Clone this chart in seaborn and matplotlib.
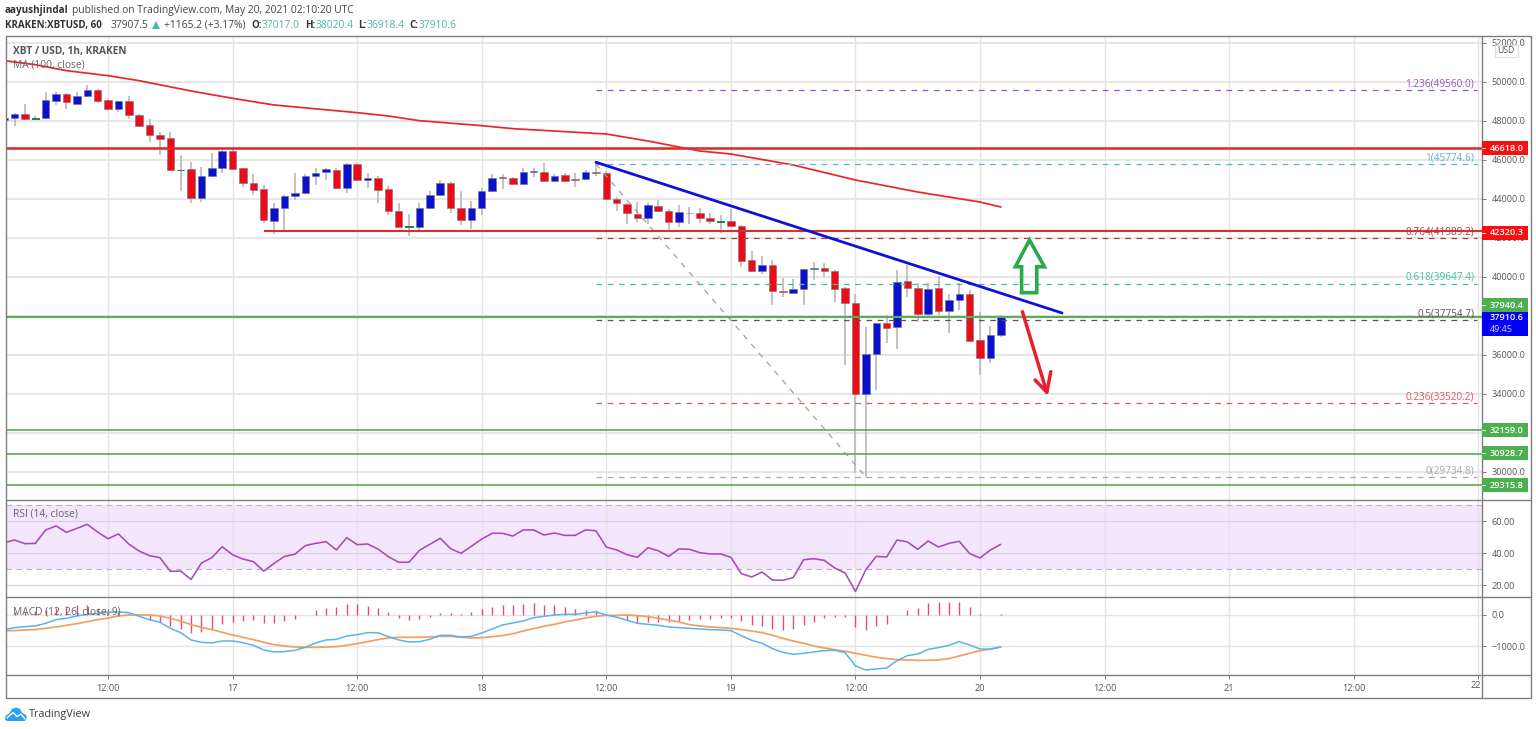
import matplotlib
matplotlib.use("Agg")
import matplotlib.pyplot as plt
from matplotlib.patches import Polygon, Rectangle
import numpy as np
import pandas as pd
import seaborn as sns

W, H = 1536, 729

# hours counted from 12:00 on the 16th, one bar per hour
hours = list(range(-10, 87))

opens = [48037, 48122, 48361, 48088, 48122, 49028, 49353, 48857, 49250, 49558,
         49045, 48601, 48994, 48310, 47763, 47285, 47097, 45456, 45507, 44038,
         45166, 45558, 46464, 45558, 44824, 44482, 42875, 43525, 44123, 44311,
         45166, 45371, 45473, 44567, 45764, 44977, 45080, 44482, 43354, 42534,
         42568, 43525, 44209, 44824, 43525, 42910, 43525, 44379, 45097, 45046,
         44771, 45369, 45386, 44925, 45215, 45010, 44993, 45386, 45335, 44002,
         43728, 43233, 43011, 43626, 43387, 42823, 43284, 43267, 43011, 42823,
         42874, 42617, 40857, 40276, 40584, 39268, 39148, 39370, 40379, 40464,
         40293, 39405, 38653, 34004, 36021, 37610, 37405, 39763, 39439, 38072,
         39439, 38260, 38806, 39131, 36756, 35816, 37017]
highs = [48242, 48413, 48857, 48242, 49489, 49489, 49404, 49489, 49831, 49643,
         49096, 49028, 49267, 48344, 48071, 47404, 47421, 46225, 45883, 45627,
         46328, 46499, 46533, 45593, 45268, 44704, 43764, 44174, 45302, 45251,
         45558, 45558, 45558, 45815, 45815, 45302, 45166, 44653, 43798, 43200,
         43764, 44396, 44961, 44858, 44379, 43901, 44533, 45251, 45251, 45131,
         45557, 45557, 45813, 45266, 45301, 45301, 45472, 45813, 45437, 44104,
         43797, 43848, 43763, 43934, 43455, 43677, 43592, 43506, 43284, 43164,
         43455, 42669, 41336, 41062, 40857, 39917, 39866, 40413, 40738, 40686,
         40345, 39490, 39114, 37439, 37644, 38037, 40345, 40601, 39695, 39695,
         40037, 39114, 39695, 39319, 38208, 37473, 38020]
lows = [48003, 47729, 48037, 48037, 48105, 48823, 48601, 48840, 49233, 48891,
        48549, 48430, 48105, 47695, 46926, 46242, 45405, 44414, 43798, 43850,
        45131, 45337, 45507, 44619, 44191, 42773, 42192, 42397, 43935, 44243,
        44704, 44960, 44482, 44311, 44960, 44567, 43798, 43166, 42534, 42089,
        42312, 43474, 44157, 43286, 42653, 42465, 43166, 44328, 44516, 44687,
        44737, 45130, 44873, 44873, 44873, 44617, 44959, 45164, 43933, 43387,
        42703, 42823, 42703, 43335, 42395, 42566, 42703, 42771, 42703, 42259,
        42566, 40515, 40242, 40122, 38550, 38977, 39114, 38550, 39832, 39969,
        38721, 35474, 29920, 29749, 34192, 36619, 36277, 38943, 37696, 37986,
        38037, 37097, 38294, 36687, 34961, 35559, 36918]
closes = [48156, 48361, 48071, 48122, 49045, 49353, 48942, 49250, 49558, 49028,
          48601, 48994, 48310, 47746, 47268, 47080, 45456, 45490, 44038, 45166,
          45558, 46464, 45542, 44824, 44465, 42910, 43525, 44123, 44311, 45183,
          45336, 45507, 44550, 45764, 44977, 45080, 44465, 43388, 42568, 42585,
          43525, 44174, 44824, 43525, 42910, 43525, 44379, 45080, 45046, 44755,
          45386, 45403, 44925, 45164, 44925, 44976, 45369, 45335, 43985, 43780,
          43250, 42993, 43660, 43387, 42823, 43301, 43250, 42993, 42874, 42874,
          42600, 40806, 40276, 40584, 39251, 39217, 39353, 40379, 40464, 40310,
          39353, 38653, 34004, 36021, 37610, 37388, 39729, 39405, 38089, 39387,
          38260, 38824, 39114, 36721, 35850, 37012, 37910]
green_dojis = [-7, 7, 29, 59]

ma_hours = [-10, -7, -4, 0, 3, 8, 12, 16, 24, 27, 30, 36, 39, 48, 52, 57, 60, 66, 72, 78, 84, 86]
ma_values = [51079, 50874, 50566, 50310, 50053, 49524, 49148, 48806, 48413, 48242, 48002,
             47746, 47592, 47318, 46959, 46446, 46292, 45728, 44959, 44344, 43830, 43574]

rsi = [46.7, 48.3, 46.0, 46.2, 54.6, 57.1, 53.1, 55.6, 58.1, 53.3,
       49.1, 52.1, 45.8, 41.4, 38.5, 37.3, 28.7, 28.9, 23.7, 33.9,
       37.3, 44.1, 39.1, 36.4, 34.8, 28.9, 33.7, 38.1, 39.4, 44.8,
       46.2, 47.3, 42.1, 49.8, 45.4, 45.8, 42.7, 37.9, 34.4, 34.4,
       41.9, 45.6, 49.4, 42.9, 40.0, 44.4, 48.9, 52.5, 52.5, 50.8,
       54.6, 54.6, 51.4, 52.7, 51.2, 51.2, 54.6, 54.1, 43.9, 42.1,
       39.1, 37.5, 43.5, 41.6, 38.1, 42.7, 42.5, 40.4, 39.6, 39.6,
       37.5, 27.3, 25.2, 28.3, 23.3, 23.1, 24.8, 36.0, 36.6, 35.6,
       30.8, 27.7, 16.2, 29.8, 38.1, 37.7, 48.3, 47.1, 42.5, 47.7,
       43.9, 46.2, 47.5, 39.8, 37.1, 42.1, 45.6]

macd = [-468, -404, -372, -351, -266, -149, -106, -32, 21, 53,
        85, 96, 74, -43, -149, -234, -426, -564, -798, -872,
        -894, -830, -830, -883, -968, -1117, -1181, -1170, -1128, -1032,
        -894, -798, -777, -670, -628, -564, -564, -692, -798, -862,
        -851, -777, -649, -649, -702, -681, -575, -447, -319, -255,
        -192, -85, -43, 0, 21, 21, 64, 96, 0, -74,
        -170, -266, -298, -330, -383, -404, -426, -447, -468, -479,
        -500, -660, -809, -904, -1075, -1192, -1256, -1224, -1181, -1138,
        -1128, -1202, -1628, -1756, -1724, -1692, -1458, -1298, -1245, -1096,
        -1043, -968, -851, -958, -1085, -1096, -1021]
signal = [-500, -500, -479, -468, -426, -383, -330, -277, -213, -149,
          -96, -32, 0, 0, 0, -32, -106, -192, -309, -394,
          -468, -553, -638, -713, -787, -872, -947, -990, -1021, -1032,
          -1032, -1021, -1011, -968, -915, -851, -787, -734, -713, -713,
          -713, -702, -681, -681, -713, -734, -724, -692, -660, -596,
          -511, -436, -362, -298, -223, -160, -96, -43, -11, -11,
          0, -21, -53, -106, -160, -223, -309, -351, -383, -404,
          -426, -468, -511, -564, -649, -745, -830, -904, -990, -1053,
          -1107, -1160, -1224, -1287, -1351, -1394, -1426, -1436, -1447, -1447,
          -1436, -1394, -1309, -1224, -1138, -1085, -1021]
hist = [32, 96, 106, 117, 160, 234, 287, 309, 319, 234,
        192, 106, 53, 0, -149, -234, -362, -447, -564, -532,
        -447, -277, -223, -192, -170, -255, -245, -202, -128, -11,
        149, 223, 255, 340, 340, 298, 223, 96, -85, -170,
        -138, -53, 64, 64, 32, 96, 181, 255, 309, 309,
        362, 383, 330, 309, 255, 202, 160, 160, 21, -43,
        -170, -245, -223, -234, -213, -192, -170, -138, -128, -96,
        -96, -202, -309, -340, -436, -479, -447, -330, -213, -96,
        -64, -64, -383, -468, -362, -287, -11, 170, 223, 394,
        415, 415, 415, 255, 32, 5, 21]

# fibonacci levels, drawn dashed from the swing high to the right edge
fib_ratio = ["1.236", "1", "0.764", "0.618", "0.5", "0.236", "0"]
fib_price = [49560.0, 45774.6, 41989.2, 39647.4, 37754.7, 33520.2, 29734.8]
fib_color = ["#9b4fc9", "#5fb0dc", "#b03a40", "#3fc1a0", "#6d4a55", "#e2575c", "#a8a8a8"]

hline_red = [46618.0, 42320.3]
hline_red_start = [-10, 15]
hline_red_width = [2.6, 2.1]
hline_green = [37940.4, 32159.0, 30928.7, 29315.8]
hline_green_width = [2.2, 1.7, 1.7, 1.7]

x_ticks = list(range(0, 133, 12))
x_labels = ["12:00", "17", "12:00", "18", "12:00", "19", "12:00", "20", "12:00", "21", "12:00", ""]
price_ticks = list(range(30000, 52001, 2000))
# 32000 sits fully behind the green price tag
price_labels = ["" if p == 32000 else f"{p:.1f}" for p in price_ticks]

df = pd.DataFrame({"hour": hours, "open": opens, "high": highs, "low": lows, "close": closes,
                   "rsi": rsi, "macd": macd, "signal": signal, "hist": hist})
ma = pd.DataFrame({"hour": ma_hours, "ma": ma_values})

sns.set_theme(style="whitegrid")
plt.rcParams["font.family"] = ["Open Sans", "DejaVu Sans"]
GRID = "#e4e4e4"
TXT = "#555555"


def pane(top, bottom):
    ax = plt.gcf().add_axes([5.7 / W, 1 - bottom / H, (1481.5 - 5.7) / W, (bottom - top) / H])
    ax.set_xlim(-9.855, 132.3)
    ax.set_xticks(x_ticks)
    ax.set_xticklabels([])
    ax.yaxis.tick_right()
    ax.grid(True, color=GRID, lw=1.0)
    ax.set_axisbelow(True)
    for s in ax.spines.values():
        s.set_visible(False)
    ax.tick_params(axis="y", right=True, length=3, width=0.7, color="#777777", labelsize=6.6,
                   labelcolor=TXT, pad=4.5)
    ax.tick_params(axis="x", bottom=False, labelsize=6.6, labelcolor=TXT)
    return ax


fig = plt.figure(figsize=(W / 100, H / 100), dpi=100, facecolor="white")

# price pane
ax = pane(36, 499.7)
ax.set_ylim(28564, 52344)
ax.set_yticks(price_ticks)
ax.set_yticklabels(price_labels)
ax.grid(True, axis="y", color=GRID, lw=1.3)

ax.vlines(df["hour"], df["low"], df["high"], color="#bdbdbd", lw=1.3, zorder=2)
up = df["close"] >= df["open"]
ax.bar(df["hour"], (df["close"] - df["open"]).abs(), bottom=df[["open", "close"]].min(axis=1), width=0.72,
       color=np.where(up, "#0a10cc", "#ec0c14"), edgecolor="#70708a", lw=0.4, zorder=3)
dojis = df[df["hour"].isin(green_dojis)]
ax.bar(dojis["hour"], dojis["close"] - dojis["open"], bottom=dojis["open"], width=0.72,
       color="#2e7d4f", edgecolor="#2e7d4f", lw=0.7, zorder=3)

sns.lineplot(data=ma, x="hour", y="ma", ax=ax, color="#e8262c", lw=1.25, errorbar=None, zorder=4)

for price, color in zip(fib_price, fib_color):
    ax.hlines(price, 47, 131.9, color=color, lw=0.9, linestyles=(0, (4.5, 4.5)), zorder=4)
for price, start, width in zip(hline_red, hline_red_start, hline_red_width):
    ax.hlines(price, start, 132.3, color="#e02c2c", lw=width * 0.72, zorder=5)
for price, width in zip(hline_green, hline_green_width):
    ax.hlines(price, -10, 132.3, color="#5cac5c", lw=width * 0.72, zorder=5)

# trend line, swing line and the two drawn arrows
ax.plot([47.0, 91.9], [45870, 38138], color="#1010d8", lw=2.0, zorder=6, solid_capstyle="round")
ax.plot([47.0, 73.0], [45774.6, 29734.8], color="#a0a0a0", lw=0.9, ls=(0, (4.5, 5)), zorder=4)
arrow_h = [88.76, 90.2, 89.46, 89.46, 88.0, 88.0, 87.4]
arrow_p = [41882, 40510, 40510, 39180, 39180, 40510, 40510]
ax.add_patch(Polygon(np.column_stack([arrow_h, arrow_p]), closed=True, fill=False,
                     edgecolor="#2aa84a", lw=2.6, joinstyle="miter", zorder=7))
ax.plot([88.08, 90.43], [38205, 34072], color="#e8202e", lw=2.5, zorder=7, solid_capstyle="round")
ax.plot([89.30, 90.43, 90.81], [34703, 34072, 35128], color="#e8202e", lw=2.5, zorder=7,
        solid_capstyle="round", solid_joinstyle="round")
ax.set_xlabel("")
ax.set_ylabel("")

# rsi pane
ax_rsi = pane(499.7, 597.3)
ax_rsi.set_ylim(12.5, 73.5)
ax_rsi.set_yticks([20, 40, 60])
ax_rsi.set_yticklabels(["20.00", "40.00", "60.00"])
ax_rsi.axhspan(30, 70, color="#f3e6fd", lw=0, zorder=0.5)
ax_rsi.grid(True, axis="y", color="#d9d0e0", lw=0.9)
for level in (30, 70):
    ax_rsi.axhline(level, color="#bcaec8", lw=0.8, ls=(0, (5, 4)), zorder=1)
sns.lineplot(data=df, x="hour", y="rsi", ax=ax_rsi, color="#a64bb8", lw=1.15, errorbar=None, zorder=3)
ax_rsi.set_xlabel("")
ax_rsi.set_ylabel("")

# macd pane
ax_macd = pane(597.3, 674.7)
ax_macd.set_ylim(-1907, 565)
ax_macd.set_yticks([0, -1000])
ax_macd.set_yticklabels(["0.0", "\u22121000.0"])
ax_macd.vlines(df["hour"], 0, df["hist"], color="#e8468c", lw=1.0, zorder=2)
sns.lineplot(data=df, x="hour", y="signal", ax=ax_macd, color="#f0a060", lw=1.25, errorbar=None, zorder=3)
sns.lineplot(data=df, x="hour", y="macd", ax=ax_macd, color="#5ab4ea", lw=1.1, errorbar=None, zorder=4)
ax_macd.set_xticklabels(x_labels)
ax_macd.tick_params(axis="x", bottom=True, length=3, width=0.7, color="#777777", pad=4)
ax_macd.set_xlabel("")
ax_macd.set_ylabel("")

# everything around the panes goes on a full size overlay in pixels
ov = fig.add_axes([0, 0, 1, 1], zorder=20)
ov.set_xlim(0, W)
ov.set_ylim(H, 0)
ov.axis("off")
ov.patch.set_alpha(0)

FRAME = "#7d7d7d"
ov.add_patch(Rectangle((5.7, 36), 1530.7 - 5.7, 698 - 36, fill=False, edgecolor=FRAME, lw=1.0))
ov.plot([1481.5, 1481.5], [36, 698], color=FRAME, lw=1.0)
for y in (499.7, 597.3, 674.7):
    ov.plot([5.7, 1530.7], [y, y], color=FRAME, lw=1.0)


def label(x, y, s, **kw):
    kw.setdefault("va", "center")
    kw.setdefault("fontsize", 7.35)
    kw.setdefault("color", "#4a4a4a")
    return ov.text(x, y, s, **kw)


# header
label(5, 10.5, "aayushjindal", fontweight="bold", fontsize=7.15, color="#333333")
label(72, 10.5, "published on TradingView.com, May 20, 2021 02:10:20 UTC", color="#444444")
label(5, 25, "KRAKEN:XBTUSD, 60", fontweight="bold", fontsize=7.0, color="#333333")
label(111, 25, "37907.5", color="#444444")
ov.add_patch(Polygon([(152, 29), (160, 29), (156, 21)], closed=True, color="#4db6ac", lw=0))
label(164, 25, "+1165.2 (+3.17%)", color="#444444")
TEAL = "#4db6a6"
for x, s in [(251, "O:"), (305, "H:"), (358, "L:"), (409, "C:")]:
    label(x, 25, s, fontweight="bold", fontsize=7.0, color="#333333")
for x, s in [(262, "37017.0"), (316, "38020.4"), (367, "36918.4"), (419, "37910.6")]:
    label(x, 25, s, color=TEAL)

# pane titles
label(13, 51, "XBT / USD, 1h, KRAKEN", fontweight="bold", fontsize=7.3, color="#555555")
label(13, 65, "MA (100, close)", fontsize=7.4, color="#666666")
label(13, 514, "RSI (14, close)", fontsize=7.4, color="#666666")
label(13, 611.5, "MACD (12, 26, close, 9)", fontsize=7.4, color="#666666")

fib_text_y = [84, 158, 232, 277, 314, 397, 471]
for ratio, price, color, y in zip(fib_ratio, fib_price, fib_color, fib_text_y):
    label(1474, y, f"{ratio}({price:.1f})", ha="right", fontsize=7.2, color=color)


def price_box(y, s, color, h=14):
    ov.add_patch(Rectangle((1482, y - h / 2), 45.5, h, color=color, lw=0, zorder=3))
    ov.plot([1482, 1485], [y, y], color="white", lw=0.7, zorder=4)
    ov.text(1490, y + 0.3, s, color="white", fontsize=6.6, fontweight="semibold", va="center", zorder=5)


price_box(148, "46618.0", "#f80f0f")
price_box(232.5, "42320.3", "#f80f0f")
price_box(305, "37940.4", "#4caf50")
ov.add_patch(Rectangle((1482, 311.5), 45.5, 24, color="#0000f0", lw=0, zorder=3))
ov.text(1490, 317.5, "37910.6", color="white", fontsize=6.6, fontweight="semibold", va="center", zorder=5)
ov.text(1490, 329, "49:45", color="#d8d8ff", fontsize=6.4, va="center", zorder=5)
price_box(430, "32159.0", "#4caf50")
price_box(453, "30928.7", "#4caf50")
price_box(485, "29315.8", "#4caf50")

# currency tag
ov.add_patch(Rectangle((1495, 44.5), 22.5, 12, facecolor="white", edgecolor="#dddddd", lw=0.8, zorder=3))
ov.text(1506.2, 50.5, "USD", color=TXT, fontsize=6.2, ha="center", va="center", zorder=4)

# the "22" tick label is cut off by the price axis
ov.text(1481, 685.5, "22", color=TXT, fontsize=6.6, ha="right", va="center")

# logo
ov.add_patch(Polygon([(5, 720), (5.5, 716), (9, 713.5), (12, 709), (16, 707.5), (20, 709), (22, 712.5),
                      (26, 715), (27, 718), (25, 721), (7, 721)], closed=True, color="#2e9ef0", lw=0))
ov.plot([7, 13, 17, 21, 25], [718, 712.5, 716.5, 714, 719], color="white", lw=1.0)
label(29, 714, "TradingView", fontsize=7.8, color="#3c3c3c")

fig.savefig("out.png", dpi=100)
